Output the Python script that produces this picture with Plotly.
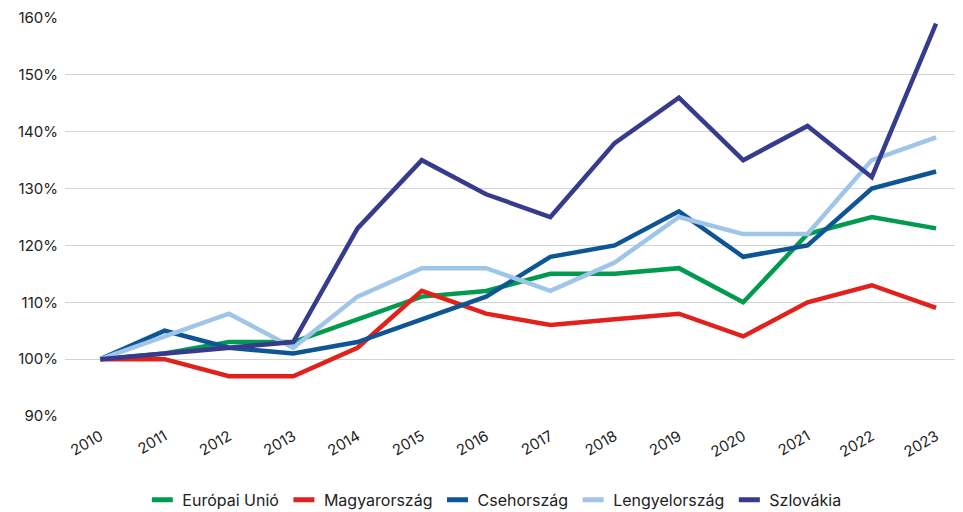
import plotly.graph_objects as go

YEARS = [str(y) for y in range(2010, 2024)]

EU = [100, 101, 103, 103, 107, 111, 112, 115, 115, 116, 110, 122, 125, 123]
HU = [100, 100, 97, 97, 102, 112, 108, 106, 107, 108, 104, 110, 113, 109]
CZ = [100, 105, 102, 101, 103, 107, 111, 118, 120, 126, 118, 120, 130, 133]
PL = [100, 104, 108, 102, 111, 116, 116, 112, 117, 125, 122, 122, 135, 139]
SK = [100, 101, 102, 103, 123, 135, 129, 125, 138, 146, 135, 141, 132, 159]

SERIES = [
    ("Európai Unió", EU, "#009B4F"),
    ("Magyarország", HU, "#E3211C"),
    ("Csehország", CZ, "#0E5596"),
    ("Lengyelország", PL, "#9FC5E8"),
    ("Szlovákia", SK, "#363B8E"),
]

fig = go.Figure()
for name, values, colour in SERIES:
    fig.add_trace(
        go.Scatter(
            x=YEARS,
            y=values,
            name=name,
            mode="lines",
            line=dict(color=colour, width=4.5),
            showlegend=False,
        )
    )
    # legend-only entry with a short thick bar as its key
    fig.add_trace(
        go.Scatter(
            x=[None],
            y=[None],
            name=name,
            mode="markers",
            marker=dict(symbol="line-ew", size=15, line=dict(color=colour, width=5)),
        )
    )

fig.update_layout(
    width=963,
    height=512,
    paper_bgcolor="white",
    plot_bgcolor="white",
    font=dict(family="Inter, Lato, sans-serif", size=15, color="#222"),
    margin=dict(l=57, r=6, t=10, b=104),
    xaxis=dict(
        type="category",
        range=[-0.55, 13.45],
        showgrid=False,
        showline=False,
        tickangle=-30,
        tickfont=dict(size=15),
        ticks="",
        ticklabelstandoff=8,
        automargin=False,
    ),
    yaxis=dict(
        range=[90, 160],
        dtick=10,
        ticksuffix="%",
        showgrid=True,
        gridcolor="#d4d4d4",
        gridwidth=1,
        zeroline=False,
        tickfont=dict(size=15),
        ticks="",
        ticklabelstandoff=6,
        automargin=False,
    ),
    legend=dict(
        orientation="h",
        x=0.505,
        xanchor="center",
        xref="container",
        y=0.006,
        yanchor="bottom",
        yref="container",
        font=dict(size=16),
        traceorder="normal",
        itemsizing="trace",
    ),
    showlegend=True,
)

fig.write_html("out.html")
